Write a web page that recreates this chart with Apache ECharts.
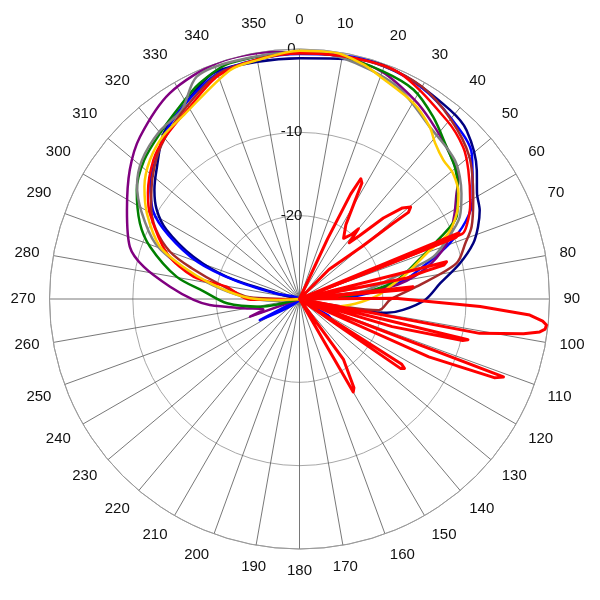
<!DOCTYPE html>
<html><head><meta charset="utf-8">
<script src="https://cdn.jsdelivr.net/npm/echarts@6/dist/echarts.min.js"></script>
<style>html,body{margin:0;padding:0;background:#fff}#c{width:600px;height:600px}</style>
</head><body><div id="c"></div>
<script>
// radial scale (dB) and angle ticks
const radiusTicks = [-30, -20, -10, 0];
const angleTicks = [0,10,20,30,40,50,60,70,80,90,100,110,120,130,140,150,160,170,180,190,200,210,220,230,240,250,260,270,280,290,300,310,320,330,340,350];

// series: angle (deg, clockwise from top) and level (dB)
const navyAngles = [282,284,287,291.7,297.5,302,307,312,320.6,327.7,339,350,0,15,25.7,38.5,44.7,54,59.2,63.8,68,72.2,77.5,83.6,90.3,96,99,101];
const navyValues = [-30,-27.2,-20.9,-16.3,-12,-9.8,-8.2,-6.9,-4.3,-3.2,-1,-1.1,-1.1,-0.3,-0.4,-1,-1.5,-3.7,-5.2,-5.9,-6.9,-8.1,-10.3,-13,-14.9,-17.5,-19.4,-30];

const blueAngles = [238,242,246,270,283,286,290,296,301,308,315,322,330,340,350,0,10,20,30,40,50,60,65,70,75,80,84.5,88,91,115,120,123,126];
const blueValues = [-30,-24.6,-30,-30,-27,-22,-17,-12.5,-9.5,-7.3,-5.8,-4.2,-2.8,-1.2,-0.8,-0.6,-0.3,-0.3,-0.7,-1.7,-3,-6,-8,-11,-14.5,-17.3,-21,-24.5,-30,-30,-26,-25.4,-30];

const purpleAngles = [248,250.3,254,260.6,266.2,269.5,275.4,281.7,287.1,297.3,307.3,315.5,327.8,341,354,0,10,20,30,36.1,45.9,53.2,56.1,62,69.3,76.8,82.3,86];
const purpleValues = [-30,-23.7,-25.5,-23.2,-19.2,-17.3,-14.4,-10.9,-8.7,-6.7,-4.4,-2.7,-0.8,0,-0.2,-0.4,-0.5,-1,-2.4,-3.4,-4.9,-6.2,-7.3,-9,-11.1,-14.7,-19,-30];

const greenAngles = [257,259,266.6,274.7,280.3,289.3,295.4,303.8,311.8,320,328.1,335,343.6,0,10,20,28.6,36.3,44,50,55,62,67,73,79.7,84.8,88,90];
const greenValues = [-30,-25.2,-21.3,-18.4,-15,-11,-8.8,-6.5,-5,-4,-2.8,-1.5,-0.5,-0.4,-0.5,-0.9,-1.4,-2.9,-4.6,-5.6,-6.8,-8.6,-12,-15.5,-18.4,-22.5,-26.5,-30];

const grayAngles = [262,266,272,279,285,291,299,305,311.4,320,328,335.2,345,0,10,24.5,37.1,48.2,56.9,62.9,68.2,72.5,76.9,83.3,88,105,110,113,116];
const grayValues = [-30,-27,-23.5,-19.5,-15.5,-11.5,-8.3,-6.2,-4.8,-3.8,-3.3,-0.6,-0.4,-0.4,-0.6,-1.9,-4.1,-5,-6.8,-8.4,-11,-13.2,-18.2,-22.5,-30,-30,-27,-25.6,-30];

const brownAngles = [268,272,280,286,290,296,302,310,318,328,340,350,0,10,20,30,40,50,60.3,67.2,71.4,77.2,84,90.4,98,101];
const brownValues = [-30,-24,-20.5,-16.5,-13.5,-10.8,-9,-7,-5.2,-3.5,-1.3,-0.8,-0.5,-0.4,-0.3,-0.6,-1.8,-3.4,-6,-7.6,-9,-10.7,-15.9,-19.1,-20.4,-30];

const redAngles = [266,269,279.6,281.9,289,299.8,305,313.6,320,330,340,350,0,10,23.4,39.4,47.1,52.6,60.7,66,68.2,68.5];
const redValues = [-30,-24.1,-21.1,-17,-13.2,-9.3,-7.8,-5.8,-4.8,-3.5,-1.5,-0.8,-0.5,-0.4,-0.3,-2.2,-3.2,-4.5,-6.5,-8,-9,-30];

const goldAngles = [265,267.5,272.3,280,285.5,290.6,299.3,306,312.9,320,328,343.1,349.8,0,8,15,19.9,30.2,37.1,41,46,50.7,56.4,61.4,66.2,69.8,77.2,82,87.1,92.5,100,110,113];
const goldValues = [-30,-27.3,-23.3,-19.1,-15.5,-12.1,-9,-7,-5.5,-4.5,-3.9,-1.3,-0.9,-0.2,-0.1,-0.8,-1.6,-2.8,-4.1,-5.2,-6,-6.2,-7.1,-8.5,-10.5,-13.5,-17,-19,-20.5,-22.5,-25,-27.4,-30];

const lobeAngles = [15,25,26,27,28.3,29.5,32,36,39,40,41.5,43.5,46,48.5,50.4,51.5,51,50,45,44,
  67.5,68.5,70, 75.8,76.8,77.5,79,80, 83.8,85,86,
  89.6,92.4,94,95.2,96,97,97.8,98.8,100.8,101,
  103.6,104.3,106.6,107, 110.9,112,114.1,115, 122.5,123.5,124.5,125.5, 144,148.5,150,151];
const lobeValues = [-30,-22,-16,-13.8,-14.2,-16.5,-19.5,-21,-20,-19,-21,-19.5,-16,-13.5,-12.7,-13.3,-15.5,-20.2,-25,-30,
  -9.3,-9.8,-30, -11.8,-12.2,-14.5,-17,-30, -16.3,-17,-30,
  -18.5,-8.3,-2.3,-0.7,-0.2,-0.3,-0.9,-2.8,-8,-30,
  -9.2,-9.8,-18.4,-30, -3.8,-4.8,-13,-30, -15.5,-14.9,-15.3,-30, -21,-17.5,-17.1,-30];

const zip = (a, v) => a.map((ang, i) => [v[i], ang]);

function line(name, color, a, v, width, smooth) {
  return { name, type: 'line', coordinateSystem: 'polar', data: zip(a, v),
    symbol: 'none', smooth: smooth, lineStyle: { color, width, cap: 'round', join: 'round' }, z: 3 };
}

const chart = echarts.init(document.getElementById('c'), null, { renderer: 'canvas' });
chart.setOption({
  animation: false,
  backgroundColor: '#fff',
  polar: { center: [299.5, 299], radius: 250 },
  angleAxis: {
    type: 'value', min: 0, max: 360, interval: 10, startAngle: 90, clockwise: true,
    axisLine: { show: true, lineStyle: { color: '#9a9a9a', width: 1 } },
    axisTick: { show: false },
    splitLine: { show: true, lineStyle: { color: '#555', width: 0.8 } },
    axisLabel: { show: true, margin: 14, fontSize: 15, color: '#111', fontFamily: 'Liberation Sans, Arial, sans-serif',
      align: 'center', verticalAlign: 'middle', padding: [0, 0, 8, 0],
      formatter: v => (angleTicks.indexOf(v) >= 0 ? String(v) : '') }
  },
  radiusAxis: {
    type: 'value', min: radiusTicks[0], max: radiusTicks[radiusTicks.length - 1], interval: 10,
    axisLine: { show: false }, axisTick: { show: false },
    splitLine: { show: true, lineStyle: { color: '#a8a8a8', width: 1 } },
    axisLabel: { show: true, fontSize: 15, color: '#111', fontFamily: 'Liberation Sans, Arial, sans-serif', margin: 8,
      align: 'center', verticalAlign: 'middle',
      formatter: v => (v === radiusTicks[0] ? '' : String(v)) }
  },
  series: [
    line('navy', '#000080', navyAngles, navyValues, 2.5, 0.3),
    line('blue', '#0000ff', blueAngles, blueValues, 2.5, 0.3),
    line('purple', '#800080', purpleAngles, purpleValues, 2.5, 0.3),
    line('green', '#008000', greenAngles, greenValues, 2.5, 0.3),
    line('gray', '#808080', grayAngles, grayValues, 2.5, 0.3),
    line('brown', '#a52a2a', brownAngles, brownValues, 2.5, 0.3),
    line('red', '#ff0000', redAngles, redValues, 2.5, 0.3),
    line('gold', '#ffcc00', goldAngles, goldValues, 2.5, 0.3),
    line('lobes', '#ff0000', lobeAngles, lobeValues, 3, false)
  ]
});
</script></body></html>
